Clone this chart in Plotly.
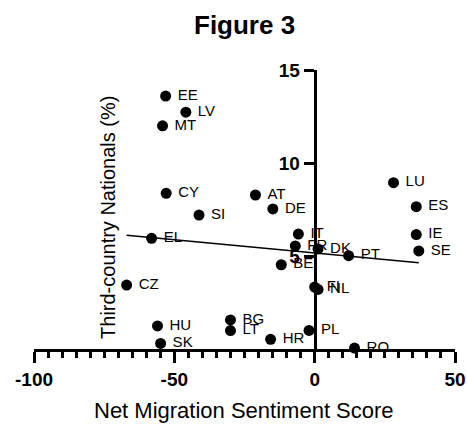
import numpy as np
import plotly.graph_objects as go

countries = ["EE", "LV", "MT", "CY", "AT", "SI", "DE", "LU", "ES", "IE", "SE", "IT", "FR", "DK",
             "PT", "BE", "FI", "NL", "EL", "CZ", "HU", "SK", "BG", "LT", "HR", "PL", "RO"]
sentiment = [-53.1, -45.9, -54.2, -52.9, -21.1, -41.2, -14.9, 28.1, 36.2, 36.2, 37.1, -5.8, -6.9, 1.2,
             12.1, -11.9, 0.0, 1.2, -58.1, -67.0, -56.0, -54.9, -30.0, -30.0, -15.7, -2.0, 14.2]
tcn_share = [13.6, 12.73, 12.0, 8.37, 8.28, 7.2, 7.53, 8.94, 7.65, 6.15, 5.27, 6.18, 5.54, 5.38,
             5.02, 4.53, 3.33, 3.2, 5.95, 3.44, 1.24, 0.3, 1.56, 0.99, 0.52, 1.0, 0.05]

x_ticks = [-100, -50, 0, 50]
y_ticks = [5, 10, 15]

FONT = "Liberation Sans, Arial, sans-serif"

xs = np.array(sentiment)
ys = np.array(tcn_share)
slope, intercept = np.polyfit(xs, ys, 1)
fit_x = [xs.min(), xs.max()]
fit_y = [slope * v + intercept for v in fit_x]

fig = go.Figure()
fig.add_trace(go.Scatter(
    x=fit_x, y=fit_y, mode="lines",
    line=dict(color="black", width=1.5), hoverinfo="skip", showlegend=False))
fig.add_trace(go.Scatter(
    x=sentiment, y=tcn_share, mode="markers+text", text=["\u00a0" + c for c in countries],
    textposition="middle right", textfont=dict(family=FONT, size=15, color="black"),
    marker=dict(color="black", size=11), cliponaxis=False, showlegend=False))

fig.update_layout(
    width=467, height=425,
    margin=dict(l=34, r=12, t=70, b=76),
    plot_bgcolor="white", paper_bgcolor="white",
    xaxis=dict(range=[-100, 50], tickvals=x_ticks, ticktext=[str(v) for v in x_ticks],
               automargin=False,
               showline=True, linecolor="black", linewidth=3,
               ticks="outside", ticklen=11, tickwidth=2.5, tickcolor="black",
               minor=dict(dtick=5, ticks="outside", ticklen=6, tickwidth=2.5, tickcolor="black"),
               showgrid=False, zeroline=False,
               tickfont=dict(family=FONT, size=19, color="black", weight="bold")),
    yaxis=dict(range=[0, 15], tickvals=y_ticks, ticktext=[str(v) for v in y_ticks],
               anchor="free", position=2/3, automargin=False,
               showline=True, linecolor="black", linewidth=3,
               ticks="outside", ticklen=10, tickwidth=2.5, tickcolor="black",
               showgrid=False, zeroline=False,
               tickfont=dict(family=FONT, size=19, color="black", weight="bold")),
    annotations=[
        dict(text="<b>Figure 3</b>", xref="paper", yref="paper", x=0.5006, y=1.161,
             showarrow=False, xanchor="center", yanchor="middle",
             font=dict(family=FONT, size=26, color="black")),
        dict(text="Net Migration Sentiment Score", xref="paper", yref="paper", x=0.498, y=-0.222,
             showarrow=False, xanchor="center", yanchor="middle",
             font=dict(family=FONT, size=22, color="black")),
        dict(text="Third-country Nationals (%)", xref="paper", yref="paper", x=0.1756, y=0.473,
             showarrow=False, xanchor="center", yanchor="middle", textangle=-90,
             font=dict(family=FONT, size=20, color="black")),
    ],
)

fig.write_html("out.html")
